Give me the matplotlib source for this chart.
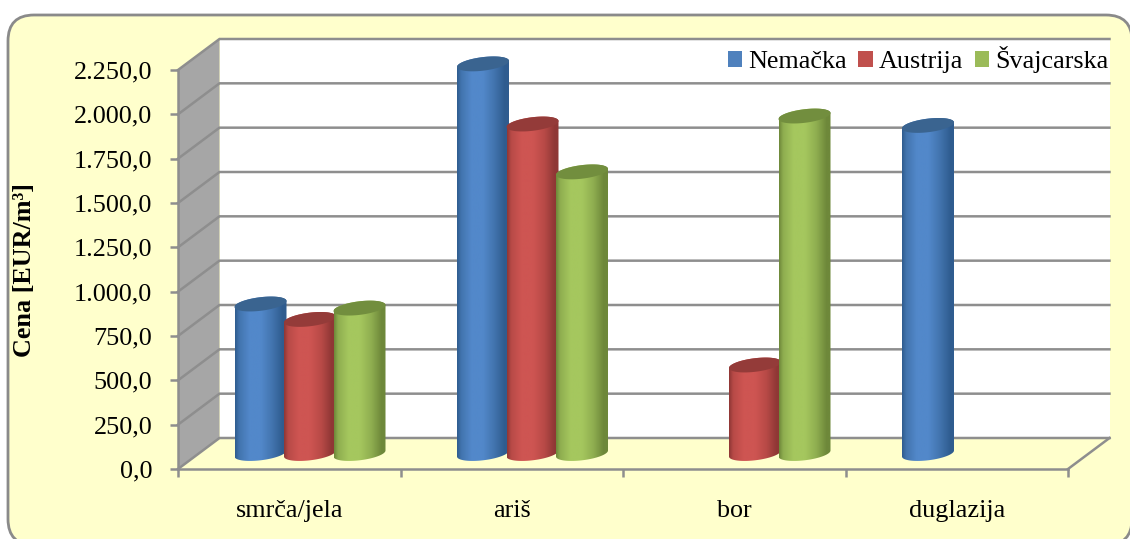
import numpy as np
import matplotlib
matplotlib.use("Agg")
import matplotlib.pyplot as plt
from matplotlib.colors import to_rgb
from matplotlib.patches import FancyBboxPatch, Polygon, Patch
from matplotlib.path import Path

categories = ["smrča/jela", "ariš", "bor", "duglazija"]
series_names = ["Nemačka", "Austrija", "Švajcarska"]
nemacka = [843, 2197, np.nan, 1850]
austrija = [756, 1858, 499, np.nan]
svajcarska = [820, 1588, 1903, np.nan]
y_ticks = [0, 250, 500, 750, 1000, 1250, 1500, 1750, 2000, 2250]
y_label = "Cena [EUR/m³]"

W, H = 1130, 539
L, R, T, B = 178, 1068, 70, 469
plt.rcParams["font.family"] = ["Liberation Serif", "DejaVu Sans"]
FS = 18.8
GRID = "#8E8E8E"
BG = "#FFFFCC"

fig = plt.figure(figsize=(W / 100, H / 100), dpi=100)
fig.patch.set_facecolor("white")

bg = fig.add_axes([0, 0, 1, 1], zorder=0)
bg.set_xlim(0, W)
bg.set_ylim(H, 0)
bg.axis("off")
bg.add_patch(FancyBboxPatch((33, 40), W + 20 - 33 - 22, H + 5 - 40, boxstyle="round,pad=0,rounding_size=0",
                            fc="none", ec="none"))
bg.add_patch(FancyBboxPatch((8 + 26, 15 + 26), 1130 - 8 - 52 + 2, 545 - 15 - 52,
                            boxstyle="round,pad=26,rounding_size=26",
                            fc=BG, ec="#8A8A8A", lw=2.0))

ax = fig.add_axes([L / W, 1 - B / H, (R - L) / W, (B - T) / H], zorder=1)
ax.patch.set_alpha(0)
ax.set_xlim(0, len(categories))
ax.set_ylim(0, y_ticks[-1])

px_x = len(categories) / (R - L)
px_y = y_ticks[-1] / (B - T)
depth_x = 41.5 * px_x
depth_y = 31 * px_y
xmax, ymax = len(categories), y_ticks[-1]

# walls
ax.add_patch(Polygon([(depth_x, depth_y), (xmax + depth_x, depth_y),
                      (xmax + depth_x, ymax + depth_y), (depth_x, ymax + depth_y)],
                     fc="white", ec="none", clip_on=False, zorder=1))
ax.add_patch(Polygon([(0, 0), (depth_x, depth_y), (depth_x, ymax + depth_y), (0, ymax)],
                     fc="#A6A6A6", ec="none", clip_on=False, zorder=1))
for v in y_ticks:
    ax.plot([0, depth_x, xmax + depth_x], [v, v + depth_y, v + depth_y], color=GRID, lw=1.8,
            clip_on=False, zorder=2, solid_joinstyle="miter")
ax.plot([xmax, xmax + depth_x], [0, depth_y], color=GRID, lw=1.8, clip_on=False, zorder=2)

# cylinders
palette = [
    {"edge": "#2F5C8F", "mid": "#4274AE", "light": "#5288CA", "top": "#3A6490"},
    {"edge": "#8F3735", "mid": "#B84A47", "light": "#CE5552", "top": "#943B39"},
    {"edge": "#6E883A", "mid": "#8FAE50", "light": "#A5C75E", "top": "#728E3E"},
]
offset = 49.5 * px_x
half_w = 26 * px_x
rb = 6.8 * px_y
shear = 3 * px_y
grad_pos = [0, 0.08, 0.28, 0.5, 0.72, 0.92, 1]


def cylinder(cx, value, col, z):
    y0 = depth_y / 2
    y1 = value + depth_y / 2
    t1 = np.linspace(np.pi, 2 * np.pi, 60)
    t2 = np.linspace(0, np.pi, 60)
    xb = cx + half_w * np.cos(t1)
    yb = y0 + rb * np.sin(t1) + shear * np.cos(t1)
    xt = cx + half_w * np.cos(t2)
    yt = y1 + rb * np.sin(t2) + shear * np.cos(t2)
    body = Path(np.vstack([np.column_stack([xb, yb]), np.column_stack([xt, yt]), [[xb[0], yb[0]]]]))
    stops = [col["edge"], col["mid"], col["light"], col["light"], col["mid"], col["edge"], col["edge"]]
    rgb = np.array([to_rgb(c) for c in stops])
    u = np.linspace(0, 1, 128)
    img = np.stack([np.interp(u, grad_pos, rgb[:, i]) for i in range(3)], axis=-1)[None, :, :]
    im = ax.imshow(img, extent=(cx - half_w, cx + half_w, y0 - 2 * rb, y1 + 2 * rb), aspect="auto",
                   origin="lower", zorder=z, interpolation="bilinear")
    im.set_clip_box(fig.bbox)
    im.set_clip_path(body, transform=ax.transData)
    t3 = np.linspace(0, 2 * np.pi, 120)
    ax.fill(cx + half_w * np.cos(t3), y1 + rb * np.sin(t3) + shear * np.cos(t3),
            color=col["top"], lw=0, clip_on=False, zorder=z + 0.1)


all_series = [nemacka, austrija, svajcarska]
for c in range(len(categories)):
    for s, values in enumerate(all_series):
        if not np.isnan(values[c]):
            cylinder(c + 0.5 + (s - 1) * offset + depth_x / 2, values[c], palette[s], 3 + c + s * 0.2)

ax.set_xlim(0, xmax)
ax.set_ylim(0, ymax)

# axes furniture
for side in ("top", "right"):
    ax.spines[side].set_visible(False)
for side in ("left", "bottom"):
    ax.spines[side].set_color(GRID)
    ax.spines[side].set_linewidth(1.8)
    ax.spines[side].set_zorder(2.5)
ax.set_yticks(y_ticks)
ax.set_yticklabels([f"{v:,.1f}".replace(",", "X").replace(".", ",").replace("X", ".") for v in y_ticks],
                   fontsize=FS, color="black")
ax.tick_params(axis="y", length=6, width=1.8, color=GRID, pad=12.5)
ax.set_xticks(range(len(categories) + 1))
ax.set_xticklabels([])
ax.tick_params(axis="x", which="major", length=6, width=1.8, color=GRID)
ax.set_xticks(np.arange(len(categories)) + 0.5, minor=True)
ax.set_xticklabels(categories, minor=True, fontsize=FS, color="black")
ax.tick_params(axis="x", which="minor", length=0, pad=22)
ax.set_ylabel(y_label, fontsize=FS, fontweight="bold", color="black")
ax.yaxis.set_label_coords((36 - L) / (R - L), (B - 270) / (B - T))

handles = [Patch(fc=p["mid"] if i else "#4F81BD", ec="none") for i, p in enumerate(palette)]
handles[1].set_facecolor("#C0504D")
handles[2].set_facecolor("#9BBB59")
ax.legend(handles, series_names, ncol=3, frameon=False, fontsize=FS,
          loc="center right", bbox_to_anchor=((1108 - L) / (R - L), (B - 60) / (B - T)),
          handlelength=0.55, handleheight=0.55, handletextpad=0.22, columnspacing=0.45,
          borderpad=0, borderaxespad=0, labelspacing=0)

fig.savefig("out.png", dpi=100)
